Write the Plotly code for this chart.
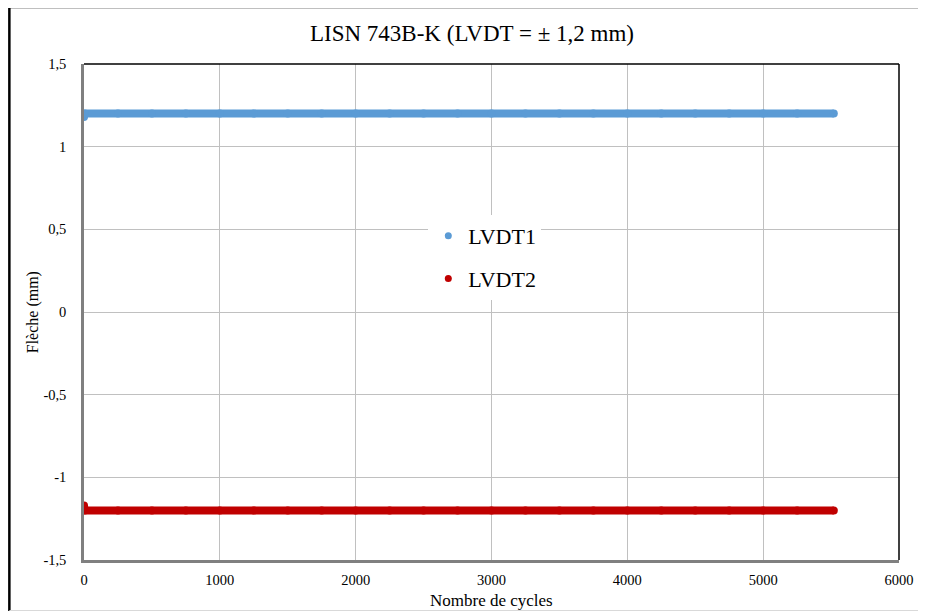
import plotly.graph_objects as go

# Data
cycles = [0, 5, 250, 500, 750, 1000, 1250, 1500, 1750, 2000, 2250, 2500, 2750,
          3000, 3250, 3500, 3750, 4000, 4250, 4500, 4750, 5000, 5250, 5520]
lvdt1 = [1.18, 1.20, 1.20, 1.20, 1.20, 1.20, 1.20, 1.20, 1.20, 1.20, 1.20, 1.20, 1.20,
         1.20, 1.20, 1.20, 1.20, 1.20, 1.20, 1.20, 1.20, 1.20, 1.20, 1.20]
lvdt2 = [-1.17, -1.20, -1.20, -1.20, -1.20, -1.20, -1.20, -1.20, -1.20, -1.20, -1.20, -1.20, -1.20,
         -1.20, -1.20, -1.20, -1.20, -1.20, -1.20, -1.20, -1.20, -1.20, -1.20, -1.20]

x_ticks = [0, 1000, 2000, 3000, 4000, 5000, 6000]
x_labels = ["0", "1000", "2000", "3000", "4000", "5000", "6000"]
y_ticks = [-1.5, -1.0, -0.5, 0, 0.5, 1.0, 1.5]
y_labels = ["-1,5", "-1", "-0,5", "0", "0,5", "1", "1,5"]

series = [("LVDT1", lvdt1, "#5b9bd5"), ("LVDT2", lvdt2, "#c00000")]

FONT = "Liberation Serif"
OFF = 8  # page body margin
W, H = 926 - OFF, 613 - OFF
# target plot area in page pixels: x 84..903, y 64..560
L, T = 84 - OFF, 64 - OFF
R = W - (903 - OFF)
B = H - (560 - OFF)
PW, PH = W - L - R, H - T - B

fig = go.Figure()
for name, vals, col in series:
    fig.add_trace(go.Scatter(x=cycles, y=vals, mode="lines+markers", showlegend=False,
                             line=dict(color=col, width=8), marker=dict(color=col, size=8),
                             hoverinfo="skip"))
for name, vals, col in series:
    fig.add_trace(go.Scatter(x=[None], y=[None], mode="markers", name=name, legendgroup=name,
                             marker=dict(color=col, size=7)))

def px_x(p):
    return (p - OFF - L) / PW

def px_y(p):
    return (H - B - (p - OFF)) / PH

shapes = [
    dict(type="line", xref="paper", yref="paper", x0=0, x1=1, y0=1, y1=1,
         line=dict(color="black", width=1.5)),
    dict(type="line", xref="paper", yref="paper", x0=1, x1=1, y0=0, y1=1,
         line=dict(color="black", width=1.5)),
    dict(type="line", xref="paper", yref="paper", x0=px_x(9), x1=px_x(940), y0=px_y(7), y1=px_y(7),
         line=dict(color="black", width=2.5)),
    dict(type="line", xref="paper", yref="paper", x0=px_x(9), x1=px_x(9), y0=px_y(7), y1=px_y(611),
         line=dict(color="black", width=2.5)),
    dict(type="line", xref="paper", yref="paper", x0=px_x(9), x1=px_x(940), y0=px_y(610.5), y1=px_y(610.5),
         line=dict(color="#d9d9d9", width=1)),
]

annotations = [
    dict(text="LISN 743B-K (LVDT = ± 1,2 mm)", xref="paper", yref="paper",
         x=px_x(474), y=px_y(33), showarrow=False, xanchor="center", yanchor="middle",
         font=dict(family=FONT, size=23, color="#000")),
    dict(text="Nombre de cycles", xref="paper", yref="paper",
         x=px_x(494), y=px_y(600), showarrow=False, xanchor="center", yanchor="middle",
         font=dict(family=FONT, size=17, color="#000")),
    dict(text="Flèche (mm)", xref="paper", yref="paper", textangle=-90,
         x=px_x(33), y=px_y(312), showarrow=False, xanchor="center", yanchor="middle",
         font=dict(family=FONT, size=16, color="#000")),
]

fig.update_layout(
    width=W, height=H,
    margin=dict(l=L, r=R, t=T, b=B),
    paper_bgcolor="white", plot_bgcolor="white",
    font=dict(family=FONT, size=14, color="#000"),
    showlegend=True,
    legend=dict(x=px_x(430), y=px_y(215), xanchor="left", yanchor="top",
                bgcolor="white", font=dict(family=FONT, size=22, color="#000"),
                tracegroupgap=11, itemwidth=30),
    shapes=shapes,
    annotations=annotations,
)
fig.update_xaxes(range=[0, 6000], tickvals=x_ticks, ticktext=x_labels,
                 showgrid=True, gridcolor="#c0c0c0", gridwidth=1,
                 showline=True, linecolor="#808080", linewidth=2.5,
                 zeroline=False, ticks="", ticklabelstandoff=5,
                 tickfont=dict(family=FONT, size=14.5, color="#000"))
fig.update_yaxes(range=[-1.5, 1.5], tickvals=y_ticks, ticktext=y_labels,
                 showgrid=True, gridcolor="#c0c0c0", gridwidth=1,
                 showline=True, linecolor="#808080", linewidth=2.5,
                 zeroline=False, ticks="", ticklabelstandoff=12,
                 tickfont=dict(family=FONT, size=14.5, color="#000"))

fig.write_html("out.html")
